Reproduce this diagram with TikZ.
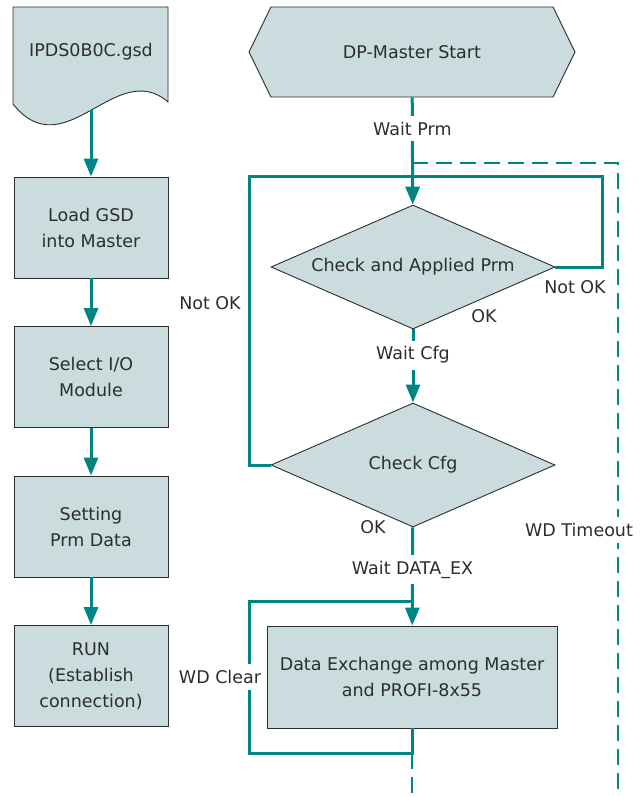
\documentclass[tikz,border=0pt]{standalone}
\usepackage{fontspec}
\setmainfont{DejaVu Sans}
\usepackage{tikz}
\usepackage{xcolor}
\usetikzlibrary{shapes.geometric,shapes.symbols,arrows.meta,positioning}
\definecolor{flowteal}{RGB}{0,133,133}
\definecolor{boxfill}{RGB}{202,220,222}
\definecolor{ink}{RGB}{45,45,45}

\begin{document}
\begin{tikzpicture}[x=1pt,y=-1pt,node distance={149.5pt},
  >={Triangle[length=18pt,width=14pt]},
  main/.style={draw=ink,fill=boxfill,text=ink,line width=0.9pt,align=center,font=\fontsize{17.5}{26}\selectfont},
  box/.style={main,rectangle,minimum width=154pt,minimum height=101pt},
  choice/.style={main,diamond,aspect=2.29,inner sep=2pt,minimum width=284pt,minimum height=124pt},
  lbl/.style={fill=white,text=ink,inner xsep=2pt,inner ysep=6pt,font=\fontsize{17.5}{26}\selectfont},
  txt/.style={lbl,fill=none},
  flow/.style={draw=flowteal,line width=3pt},
  wd/.style={draw=flowteal,line width=2pt,dash pattern=on 16pt off 8pt}]
\useasboundingbox (0,0) rectangle (644,796);

% left column
\draw[main] (13,7) -- (168,7) -- (168,102) .. controls (116,57) and (65,169) .. (13,104) -- cycle;
\node[txt] (1) at (91,52) {IPDS0B0C.gsd};
\coordinate (1b) at (91,110);
\node[box] (2) at (91,227.5) {Load GSD\\into Master};
\node[box] (3) [below of=2] {Select I/O\\Module};
\node[box] (4) [below of=3] {Setting\\Prm Data};
\node[box] (5) [below of=4] {RUN\\(Establish\\connection)};

\draw[flow,->] (1b) -- (2);
\draw[flow,->] (2) -- (3);
\draw[flow,->] (3) -- (4);
\draw[flow,->] (4) -- (5);

% right column
\node[main,signal,signal to=west and east,signal pointer angle=128,minimum width=326pt,minimum height=90pt] (6) at (412,52) {DP-Master Start};
\node[choice] (7) at (413,267) {Check and Applied Prm};
\node[choice] (8) at (413,465) {Check Cfg};
\node[main,rectangle,minimum width=290pt,minimum height=102pt] (9) at (412,677) {Data Exchange among Master\\and PROFI-8x55};

\coordinate (t1) at (412,163);
\coordinate (t2) at (618,796);
\coordinate (t3) at (412,753);
\coordinate (t4) at (412,796);

% watchdog timeout
\draw[wd] (t1) -- (t2 |- t1) -- (t2);
\draw[wd] (t3) -- (t4);

% not ok loops
\draw[flow] (7.east) -| (602,176) -| (249,465) -- (8.west);
% wd clear loop
\draw[flow] (9.south) -- (t3) -| (249,601) -- (412,601);

\draw[flow,->] (6) -- node[lbl,pos=0.29] {Wait Prm} (7);
\draw[flow,->] (7) -- node[lbl,pos=0.35] {Wait Cfg} (8);
\draw[flow,->] (8) -- node[lbl,pos=0.43] {Wait DATA\_EX} (9);

\node[txt] (10) at (210,303) {Not OK};
\node[lbl] (11) at (575,287) {Not OK};
\node[txt] (12) at (484,316) {OK};
\node[txt] (13) at (373,527) {OK};
\node[lbl] (14) at (579,530) {WD Timeout};
\node[lbl] (15) at (220,677) {WD Clear};

\end{tikzpicture}
\end{document}
